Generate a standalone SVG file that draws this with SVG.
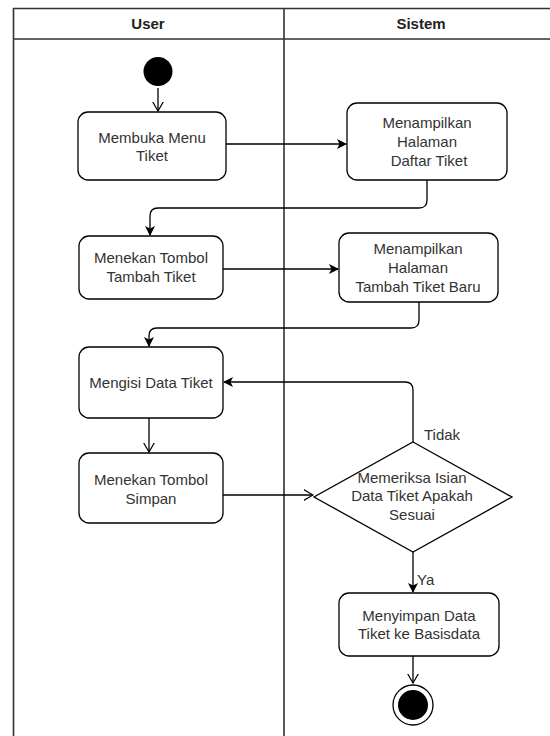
<svg xmlns="http://www.w3.org/2000/svg" width="550" height="736" viewBox="0 0 550 736">
<style>
text{font-family:"Liberation Sans",Arial,sans-serif;font-size:15px;fill:#333;text-anchor:middle}
.hdr{font-weight:bold;fill:#222}
.lbl{text-anchor:start}
.lane{fill:none;stroke:#333;stroke-width:1.6}
.box{fill:#fff;stroke:#000;stroke-width:1.3}
.c{fill:none;stroke:#000;stroke-width:1.3}
.f{marker-end:url(#fill)}
.o{marker-end:url(#open)}
</style>
<defs>
<marker id="fill" viewBox="0 0 10 10" refX="9" refY="5" markerWidth="10" markerHeight="10" markerUnits="userSpaceOnUse" orient="auto">
<path d="M0,0 L10,5 L0,10 L2.5,5 Z" fill="#000"/>
</marker>
<marker id="open" viewBox="0 0 10 12" refX="9.5" refY="6" markerWidth="10" markerHeight="12" markerUnits="userSpaceOnUse" orient="auto">
<path d="M0,0.5 L9.5,6 L0,11.5" fill="none" stroke="#000" stroke-width="1.2"/>
</marker>
</defs>
<g id="lanes">
<path class="lane" d="M13.5,736 V8.5 H552 M13.5,39 H552 M284,8.5 V736"/>
<text class="hdr" x="148" y="29">User</text>
<text class="hdr" x="421" y="29">Sistem</text>
</g>
<g id="connectors">
<path class="c o" d="M158,88 V111"/>
<path class="c f" d="M226,144 H346"/>
<path class="c f" d="M427,180 V200 Q427,208 419,208 H158 Q150,208 150,216 V235"/>
<path class="c f" d="M223,269 H338"/>
<path class="c f" d="M419,302 V320 Q419,328 411,328 H157 Q149,328 149,336 V346"/>
<path class="c o" d="M149,418 V452"/>
<path class="c o" d="M223,495 H313"/>
<path class="c f" d="M413,442 V390 Q413,382 405,382 H224"/>
<path class="c f" d="M413,552 V592"/>
<path class="c o" d="M413,656 V683"/>
<text class="lbl" x="424" y="440">Tidak</text>
<text class="lbl" x="417" y="585">Ya</text>
</g>
<g id="start"><circle cx="158" cy="71.5" r="14.5" fill="#000"/></g>
<g id="n1">
<rect class="box" x="78" y="112" width="148" height="68" rx="10"/>
<text x="152" y="143">Membuka Menu</text>
<text x="152" y="161">Tiket</text>
</g>
<g id="n2">
<rect class="box" x="347" y="103" width="160" height="77" rx="10"/>
<text x="427" y="128">Menampilkan</text>
<text x="427" y="147">Halaman</text>
<text x="429" y="166">Daftar Tiket</text>
</g>
<g id="n3">
<rect class="box" x="79" y="236" width="144" height="63" rx="10"/>
<text x="151" y="263">Menekan Tombol</text>
<text x="151" y="282">Tambah Tiket</text>
</g>
<g id="n4">
<rect class="box" x="339" y="233" width="159" height="69" rx="10"/>
<text x="418" y="254">Menampilkan</text>
<text x="418" y="273">Halaman</text>
<text x="418" y="292">Tambah Tiket Baru</text>
</g>
<g id="n5">
<rect class="box" x="79" y="347" width="144" height="71" rx="10"/>
<text x="151" y="388">Mengisi Data Tiket</text>
</g>
<g id="n6">
<rect class="box" x="79" y="453" width="144" height="70" rx="10"/>
<text x="151" y="485">Menekan Tombol</text>
<text x="151" y="504">Simpan</text>
</g>
<g id="decision">
<path class="box" d="M413,442 L512,497 L413,552 L314,497 Z"/>
<text x="412" y="483">Memeriksa Isian</text>
<text x="412" y="501">Data Tiket Apakah</text>
<text x="412" y="520">Sesuai</text>
</g>
<g id="n7">
<rect class="box" x="339" y="593" width="160" height="63" rx="10"/>
<text x="419" y="621">Menyimpan Data</text>
<text x="419" y="639">Tiket ke Basisdata</text>
</g>
<g id="end">
<circle cx="413" cy="705" r="20" fill="#fff" stroke="#000" stroke-width="1.3"/>
<circle cx="413" cy="705" r="15" fill="#000"/>
</g>
</svg>
